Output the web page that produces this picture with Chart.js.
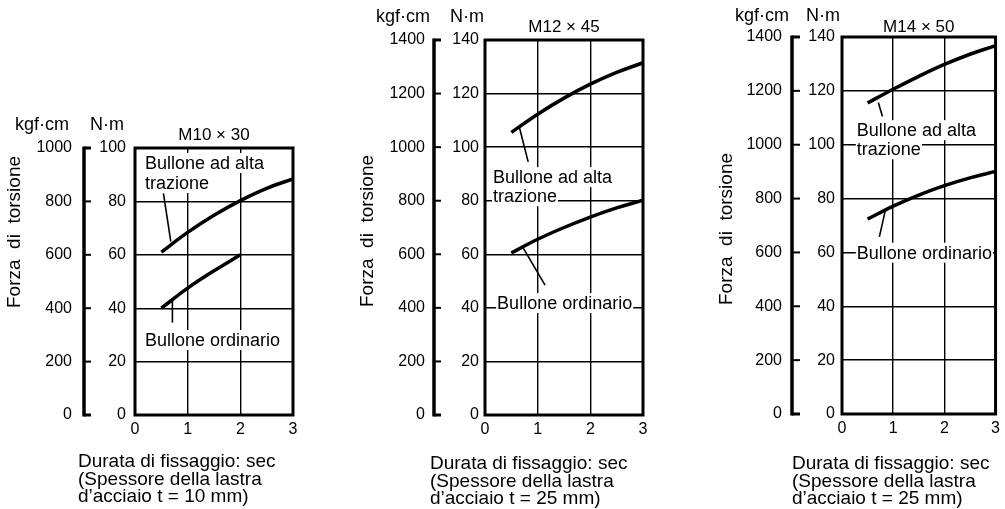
<!DOCTYPE html>
<html><head><meta charset="utf-8">
<script src="https://cdn.jsdelivr.net/npm/chart.js@4.4.1/dist/chart.umd.min.js"></script>
<style>
html,body{margin:0;padding:0;background:#fff;width:1005px;height:509px;overflow:hidden}
canvas{position:absolute;top:0}
</style></head><body>
<canvas id="c1" width="330" height="509" style="left:0px"></canvas>
<canvas id="c2" width="330" height="509" style="left:340px"></canvas>
<canvas id="c3" width="305" height="509" style="left:700px"></canvas>
<script>
// ---- data ----
const durations = [0.5, 1, 1.5, 2, 2.5, 3];
const xTicks = [0, 1, 2, 3];
const hiM10  = [61, 68.4, 74.8, 80.3, 84.9, 88.4];
const ordM10 = [40, 47.5, 54, 60, null, null];
const hiM12  = [105.5, 112.3, 118.3, 123.5, 127.9, 131.5];
const ordM12 = [60.5, 65.6, 70, 73.9, 77.3, 80.2];
const hiM14  = [115.5, 120.6, 125.4, 129.8, 133.6, 136.8];
const ordM14 = [72.4, 77.2, 81.3, 84.8, 87.7, 90.1];
const nmTicksM10  = [0, 20, 40, 60, 80, 100];
const kgfTicksM10 = [0, 200, 400, 600, 800, 1000];
const nmTicksM12  = [0, 20, 40, 60, 80, 100, 120, 140];
const kgfTicksM12 = [0, 200, 400, 600, 800, 1000, 1200, 1400];
const titles = ['M10 \u00d7 30', 'M12 \u00d7 45', 'M14 \u00d7 50'];
const yTitle = 'Forza  di  torsione';
const unitKgf = 'kgf\u00b7cm';
const unitNm = 'N\u00b7m';
const hiLabel = ['Bullone ad alta', 'trazione'];
const ordLabel = ['Bullone ordinario'];
const xTitleM10 = ['Durata di fissaggio: sec', '(Spessore della lastra', 'd\u2019acciaio t = 10 mm)'];
const xTitleM12 = ['Durata di fissaggio: sec', '(Spessore della lastra', 'd\u2019acciaio t = 25 mm)'];

Chart.defaults.font.family = '"Liberation Sans", Arial, Helvetica, sans-serif';
Chart.defaults.color = '#000';

const FONT = '"Liberation Sans", Arial, Helvetica, sans-serif';

const panels = [
  { id:'c1', top:148, right:37, bottom:94, nmMax:100, nmTicks:nmTicksM10, kgfTicks:kgfTicksM10,
    hi:hiM10, ord:ordM10, title:titles[0], xTitle:xTitleM10,
    yW:45, yPad:9, kW:90, kPad:18, bracketX:84, bracketTo:91,
    kgfHdrX:42, nmHdrX:107, hdrY:125, titleY:135, yTitleX:15, yTitleY:232, xTitleX:78, xTitleY:467,
    annos:[
      {lines:hiLabel, x:0.19, y:[94.4, 86.9], lead:[0.68, 64.9, 0.54, 83.0]},
      {lines:ordLabel, x:0.19, y:[28.1], lead:[0.71, 43.1, 0.71, 34.6]}
    ]},
  { id:'c2', top:40, right:27, bottom:94, nmMax:140, nmTicks:nmTicksM12, kgfTicks:kgfTicksM12,
    hi:hiM12, ord:ordM12, title:titles[1], xTitle:xTitleM12,
    yW:45, yPad:6, kW:100, kPad:15, bracketX:94, bracketTo:101,
    kgfHdrX:63, nmHdrX:127, hdrY:17, titleY:27, yTitleX:28, yTitleY:231, xTitleX:90, xTitleY:469,
    annos:[
      {lines:hiLabel, x:0.15, y:[88.8, 81.7], lead:[0.65, 107.6, 0.82, 94.5]},
      {lines:ordLabel, x:0.23, y:[41.8], lead:[0.73, 62.2, 1.14, 48.5]}
    ]},
  { id:'c3', top:37, right:6, bottom:95, nmMax:140, nmTicks:nmTicksM12, kgfTicks:kgfTicksM12,
    hi:hiM14, ord:ordM14, title:titles[2], xTitle:xTitleM12,
    yW:45, yPad:7, kW:97, kPad:15, bracketX:92, bracketTo:100,
    kgfHdrX:62, nmHdrX:123, hdrY:16, titleY:27, yTitleX:27, yTitleY:229, xTitleX:92, xTitleY:469,
    annos:[
      {lines:hiLabel, x:0.29, y:[105.4, 98.3], lead:[0.71, 115.7, 0.79, 110.5]},
      {lines:ordLabel, x:0.29, y:[59.9], lead:[0.85, 75.9, 0.73, 65.8]}
    ]}
];

function pts(vals){ return durations.map((d,i)=>({x:d, y:vals[i]})); }

const decor = {
  id:'decor',
  beforeDatasetsDraw(chart){
    const p = chart.options.plugins.decor.p;
    const ctx = chart.ctx, xs = chart.scales.x, ys = chart.scales.y;
    ctx.save();
    ctx.font = '18px ' + FONT;
    ctx.textBaseline = 'middle'; ctx.textAlign = 'left';
    p.annos.forEach(a=>{
      a.lines.forEach((t,i)=>{
        const px = xs.getPixelForValue(a.x), py = ys.getPixelForValue(a.y[i]);
        const w = ctx.measureText(t).width;
        ctx.fillStyle = '#fff'; ctx.fillRect(px-1, py-10, w+2, 20);
      });
    });
    p.annos.forEach(a=>{
      ctx.fillStyle = '#000';
      a.lines.forEach((t,i)=>{
        ctx.fillText(t, xs.getPixelForValue(a.x), ys.getPixelForValue(a.y[i])+1);
      });
      ctx.beginPath();
      ctx.moveTo(xs.getPixelForValue(a.lead[0]), ys.getPixelForValue(a.lead[1]));
      ctx.lineTo(xs.getPixelForValue(a.lead[2]), ys.getPixelForValue(a.lead[3]));
      ctx.lineWidth = 1.6; ctx.strokeStyle = '#000'; ctx.stroke();
    });
    ctx.restore();
  },
  afterDraw(chart){
    const p = chart.options.plugins.decor.p;
    const ctx = chart.ctx, ca = chart.chartArea, ks = chart.scales.yk;
    ctx.save();
    ctx.strokeStyle = '#000';
    ctx.lineWidth = 3;
    ctx.strokeRect(ca.left, ca.top, ca.right-ca.left, ca.bottom-ca.top);
    const t0 = ks.getPixelForValue(ks.min), t1 = ks.getPixelForValue(ks.max);
    ctx.lineWidth = 3.5;
    ctx.beginPath(); ctx.moveTo(p.bracketX, t1-1.5); ctx.lineTo(p.bracketX, t0+1.5); ctx.stroke();
    ks.ticks.forEach(t=>{
      const y = ks.getPixelForValue(t.value);
      ctx.lineWidth = (t.value===ks.min||t.value===ks.max) ? 3 : 2;
      ctx.beginPath(); ctx.moveTo(p.bracketX, y); ctx.lineTo(p.bracketTo, y); ctx.stroke();
    });
    ctx.fillStyle = '#000';
    ctx.textAlign = 'center'; ctx.textBaseline = 'middle';
    ctx.font = '18px ' + FONT;
    ctx.fillText(unitKgf, p.kgfHdrX, p.hdrY);
    ctx.fillText(unitNm, p.nmHdrX, p.hdrY);
    ctx.font = '17px ' + FONT;
    ctx.fillText(p.title, (ca.left+ca.right)/2, p.titleY);
    ctx.save();
    ctx.translate(p.yTitleX, p.yTitleY); ctx.rotate(-Math.PI/2);
    ctx.font = '19px ' + FONT;
    ctx.fillText(yTitle, 0, 0);
    ctx.restore();
    ctx.textAlign = 'left'; ctx.textBaseline = 'alphabetic';
    ctx.font = '19px ' + FONT;
    p.xTitle.forEach((t,i)=> ctx.fillText(t, p.xTitleX, p.xTitleY + i*17.5));
    ctx.restore();
  }
};

const fmt = v => String(v);

panels.forEach(p=>{
  new Chart(document.getElementById(p.id), {
    type:'line',
    data:{ datasets:[
      {data:pts(p.hi), borderColor:'#000', borderWidth:3.5, pointRadius:0, tension:0.4, fill:false, spanGaps:false},
      {data:pts(p.ord), borderColor:'#000', borderWidth:3.5, pointRadius:0, tension:0.4, fill:false, spanGaps:false}
    ]},
    plugins:[decor],
    options:{
      responsive:false, animation:false, events:[],
      layout:{ padding:{ top:p.top, right:p.right, left:0, bottom:0 } },
      plugins:{ legend:{display:false}, tooltip:{enabled:false}, decor:{p:p} },
      scales:{
        x:{ type:'linear', min:0, max:3,
            afterBuildTicks:s=>{ s.ticks = xTicks.map(v=>({value:v})); },
            afterFit:s=>{ s.height = p.bottom; },
            grid:{ color:'#000', lineWidth:1.4, drawTicks:false, tickLength:0 },
            border:{ display:false },
            ticks:{ font:{size:16}, color:'#000', padding:5, maxRotation:0, callback:fmt } },
        y:{ type:'linear', position:'left', weight:0, min:0, max:p.nmMax,
            afterBuildTicks:s=>{ s.ticks = p.nmTicks.map(v=>({value:v})); },
            afterFit:s=>{ s.width = p.yW; },
            grid:{ color:'#000', lineWidth:1.4, drawTicks:false, tickLength:0 },
            border:{ display:false },
            ticks:{ font:{size:16}, color:'#000', padding:p.yPad, callback:fmt } },
        yk:{ type:'linear', position:'left', weight:10, min:0, max:p.nmMax*10,
            afterBuildTicks:s=>{ s.ticks = p.kgfTicks.map(v=>({value:v})); },
            afterFit:s=>{ s.width = p.kW; },
            grid:{ display:false, drawOnChartArea:false, drawTicks:false, tickLength:0 },
            border:{ display:false },
            ticks:{ font:{size:16}, color:'#000', padding:p.kPad, callback:fmt } }
      }
    }
  });
});
</script>
</body></html>
